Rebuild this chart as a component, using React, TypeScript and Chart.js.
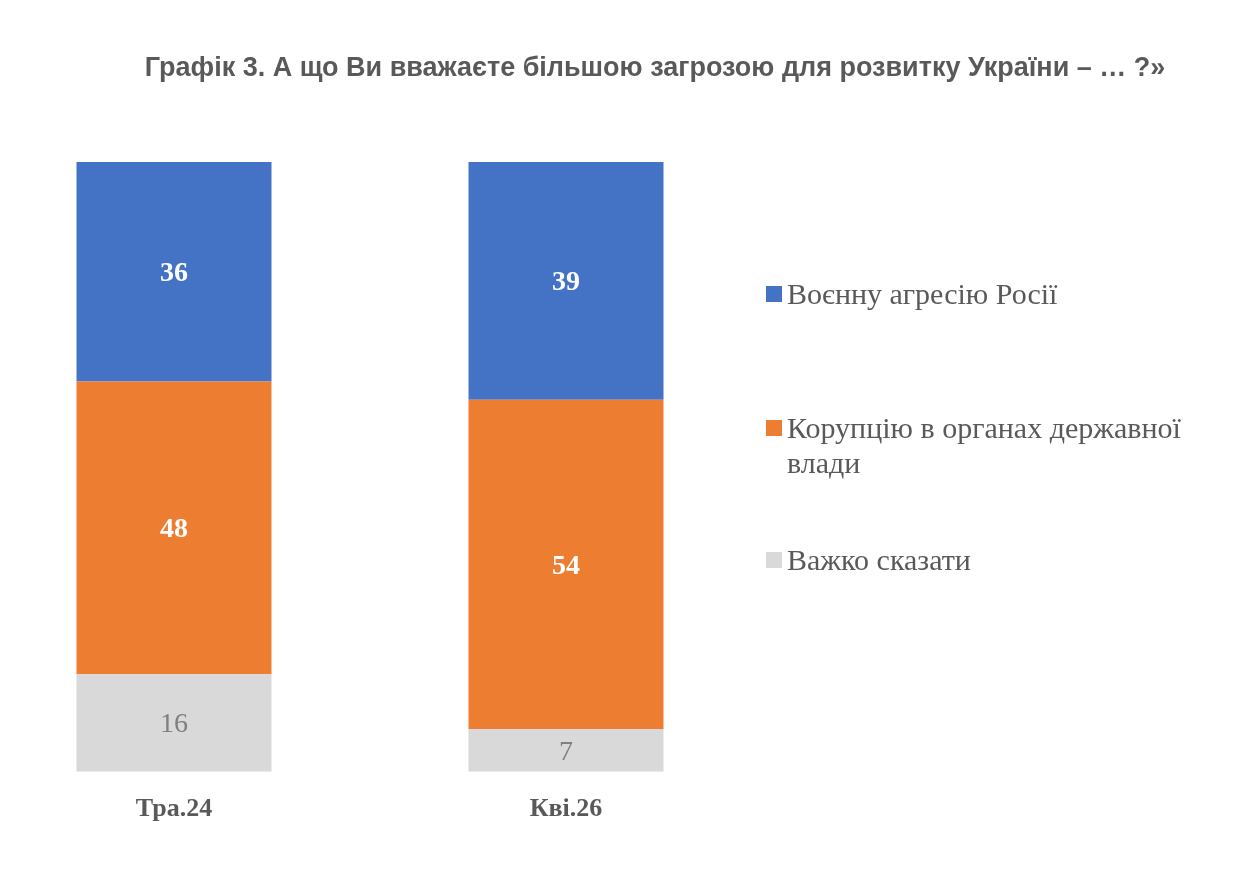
import { useEffect, useRef } from 'react';
import { Chart, registerables } from 'chart.js';

Chart.register(...registerables);

const TITLE = 'Графік 3. А що Ви вважаєте більшою загрозою для розвитку України – … ?»';

const periods = ['Тра.24', 'Кві.26'];

const seriesNames = ['Воєнну агресію Росії', 'Корупцію в органах державної влади', 'Важко сказати'];
const legendLines = [['Воєнну агресію Росії'], ['Корупцію в органах державної', 'влади'], ['Важко сказати']];
const seriesColors = ['#4472C4', '#ED7D31', '#D9D9D9'];
const labelColors = ['#FFFFFF', '#FFFFFF', '#7F7F7F'];

const russiaValues = [36, 39];
const corruptionValues = [48, 54];
const hardToSayValues = [16, 7];

const SERIF = "'Liberation Serif', 'Times New Roman', serif";
const SANS = "'Liberation Sans', Arial, sans-serif";
const TEXT = '#595959';

// холст шире страницы и сдвинут влево, чтобы первый столбец встал у левого края
const SHIFT = 44;
const W = 1256 + SHIFT;
const H = 880;

const App = () => {
  const canvasRef = useRef<HTMLCanvasElement>(null);

  useEffect(() => {
    if (!canvasRef.current) return;
    const ctx = canvasRef.current.getContext('2d');
    if (!ctx) return;

    const values = [russiaValues, corruptionValues, hardToSayValues];
    // в Chart.js первый набор рисуется снизу, поэтому порядок обратный
    const datasets = [2, 1, 0].map((s) => ({
      label: seriesNames[s],
      data: values[s],
      backgroundColor: seriesColors[s],
      borderWidth: 0,
      categoryPercentage: 1,
      barPercentage: 195 / 392,
      labelColor: labelColors[s],
      bold: s !== 2,
    }));

    const decorPlugin = {
      id: 'decor',
      afterDatasetsDraw(chart: any) {
        const c = chart.ctx;
        c.save();
        // подписи значений
        chart.data.datasets.forEach((ds: any, di: number) => {
          const meta = chart.getDatasetMeta(di);
          meta.data.forEach((bar: any, i: number) => {
            const { x, y, base } = bar.getProps(['x', 'y', 'base'], true);
            c.font = `${ds.bold ? 'bold ' : ''}28px ${SERIF}`;
            c.fillStyle = ds.labelColor;
            c.textAlign = 'center';
            c.textBaseline = 'middle';
            c.fillText(String(ds.data[i]), x, (y + base) / 2 + 2);
          });
        });
        // заголовок
        c.font = `bold 27px ${SANS}`;
        c.fillStyle = TEXT;
        c.textAlign = 'center';
        c.textBaseline = 'alphabetic';
        c.fillText(TITLE, 655 + SHIFT, 76);
        // легенда
        const legendY = [294, 428, 560];
        c.font = `30px ${SERIF}`;
        c.textAlign = 'left';
        legendLines.forEach((lines, s) => {
          c.fillStyle = seriesColors[s];
          c.fillRect(766 + SHIFT, legendY[s] - 8, 16, 16);
          c.fillStyle = TEXT;
          lines.forEach((line, li) => {
            c.fillText(line, 787 + SHIFT, legendY[s] + 10 + li * 35);
          });
        });
        c.restore();
      },
    };

    const chart = new Chart(ctx, {
      type: 'bar',
      data: { labels: periods, datasets } as any,
      options: {
        responsive: false,
        animation: false,
        layout: { padding: { left: 22, right: W - 22 - 784, top: 162, bottom: 33 } },
        plugins: {
          legend: { display: false },
          tooltip: { enabled: false },
          title: { display: false },
        },
        scales: {
          x: {
            stacked: true,
            grid: { display: false, drawTicks: false },
            border: { display: false },
            ticks: {
              padding: 22,
              color: TEXT,
              font: { family: SERIF, size: 26, weight: 'bold' },
            },
          },
          y: {
            stacked: true,
            display: false,
            min: 0,
            max: 100,
          },
        },
      } as any,
      plugins: [decorPlugin],
    });

    return () => {
      chart.destroy();
    };
  }, []);

  return (
    <div style={{ position: 'fixed', left: 0, top: 0, width: 1256, height: H, background: '#fff', overflow: 'hidden' }}>
      <canvas ref={canvasRef} width={W} height={H} style={{ position: 'absolute', left: -SHIFT, top: 0 }} />
    </div>
  );
};

export default App;
